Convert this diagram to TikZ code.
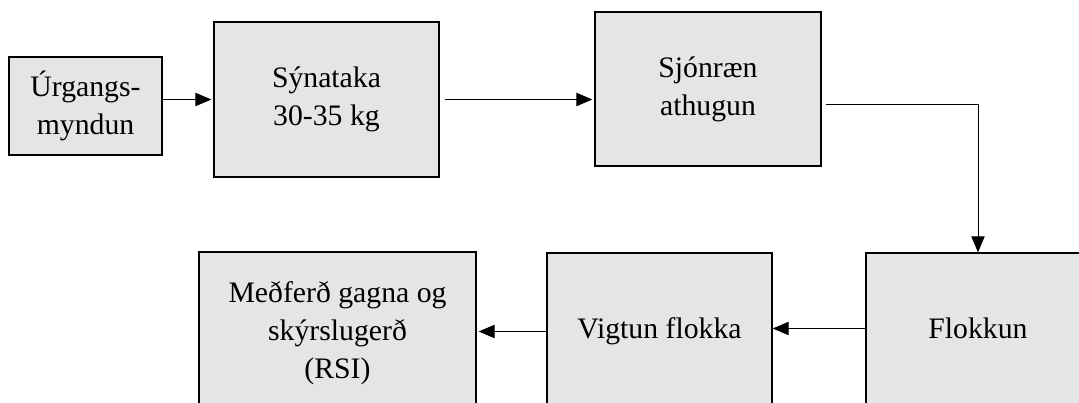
\documentclass[tikz,border=0pt]{standalone}
\usepackage{fontspec}
\setmainfont{Liberation Serif}
\usetikzlibrary{arrows.meta}
\definecolor{boxgray}{RGB}{229,229,229}
\begin{document}
\begin{tikzpicture}[x=0.75pt,y=-0.75pt,
  box/.style={draw=black, line width=1pt, fill=boxgray, align=center, inner sep=0pt,
    font=\fontsize{22.3}{28.5}\selectfont},
  conn/.style={line width=0.7pt, -{Triangle[length=12pt,width=10pt]}}]
\useasboundingbox (0,0) rectangle (1079,403);
\clip (0,0) rectangle (1079,403);
\node[box, minimum width=114.75pt, minimum height=73.5pt] (urg) at (85.5,106) {Úrgangs-\\myndun};
\node[box, minimum width=168.75pt, minimum height=116.25pt] (syn) at (326.5,99.5) {Sýnataka\\30-35 kg};
\node[box, minimum width=169.5pt, minimum height=115.5pt] (sjo) at (708,89) {Sjónræn\\athugun};
\node[box, minimum width=168pt, minimum height=113.25pt] (flok) at (978,328.5) {Flokkun};
\node[box, minimum width=168.75pt, minimum height=117.75pt] (vig) at (659.5,331.5) {Vigtun flokka};
\node[box, minimum width=207.75pt, minimum height=121.5pt] (med) at (337.5,333) {Meðferð gagna og\\skýrslugerð\\(RSI)};
\coordinate (c3) at (826,104);
\draw[conn, shorten >=1.5pt] (syn.west -| urg.east) -- (syn.west);
\draw[conn, shorten <=3.75pt, shorten >=1.5pt] (syn.east) -- (sjo.west |- syn.east);
\draw[conn] (c3) -| (flok.north);
\draw[conn] (flok.west) -- (vig.east |- flok.west);
\draw[conn, shorten >=1.5pt] (vig.west) -- (med.east |- vig.west);
\end{tikzpicture}
\end{document}
